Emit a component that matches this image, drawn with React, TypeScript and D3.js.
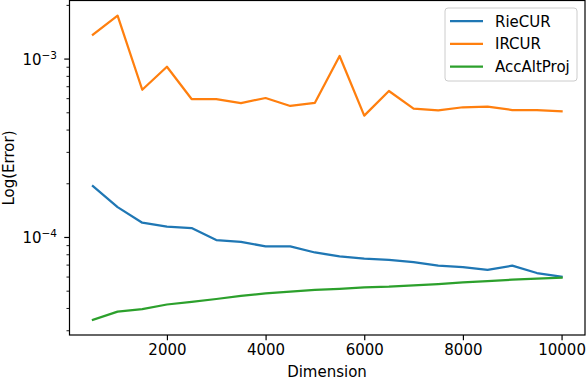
import React, { useRef, useEffect } from "react";
import * as d3 from "d3";

const dims = [500, 1000, 1500, 2000, 2500, 3000, 3500, 4000, 4500, 5000, 5500, 6000, 6500, 7000, 7500, 8000, 8500, 9000, 9500, 10000];
const rieCUR = [1.94e-4, 1.48e-4, 1.21e-4, 1.15e-4, 1.13e-4, 9.67e-5, 9.46e-5, 8.91e-5, 8.91e-5, 8.24e-5, 7.83e-5, 7.6e-5, 7.5e-5, 7.28e-5, 6.95e-5, 6.83e-5, 6.59e-5, 6.95e-5, 6.32e-5, 6.02e-5];
const irCUR = [1.37e-3, 1.75e-3, 6.73e-4, 9.06e-4, 5.97e-4, 5.97e-4, 5.67e-4, 6.05e-4, 5.46e-4, 5.69e-4, 1.04e-3, 4.82e-4, 6.62e-4, 5.27e-4, 5.16e-4, 5.37e-4, 5.41e-4, 5.18e-4, 5.18e-4, 5.09e-4];
const accAltProj = [3.45e-5, 3.84e-5, 3.97e-5, 4.21e-5, 4.36e-5, 4.52e-5, 4.7e-5, 4.86e-5, 4.97e-5, 5.08e-5, 5.15e-5, 5.25e-5, 5.3e-5, 5.39e-5, 5.48e-5, 5.6e-5, 5.7e-5, 5.8e-5, 5.87e-5, 5.95e-5];
const seriesNames = ["RieCUR", "IRCUR", "AccAltProj"];
const colors = ["#1f77b4", "#ff7f0e", "#2ca02c"];
const xTicks = [2000, 4000, 6000, 8000, 10000];
const yMajor = [1e-4, 1e-3];

const W = 586;
const H = 382;
const left = 69.5;
const right = 585;
const top = 0.5;
const bottom = 335;
const FONT = "DejaVu Sans, sans-serif";

const App = () => {
  const svgRef = useRef(null);

  useEffect(() => {
    const svg = d3.select(svgRef.current);
    const x = d3.scaleLinear().domain([25, 10475]).range([left, right]);
    const y = d3.scaleLog().domain([2.84e-5, 2.13e-3]).range([bottom, top]);

    // x axis
    const xAxis = d3.axisBottom(x).tickValues(xTicks).tickFormat(d3.format("d")).tickSizeOuter(0).tickSize(5.25).tickPadding(4);
    const gx = svg.select(".x-axis").attr("transform", `translate(0,${bottom})`).call(xAxis);
    gx.select(".domain").remove();
    gx.selectAll("line").attr("stroke", "#000").attr("stroke-width", 1.2);
    gx.selectAll("text").attr("font-family", FONT).attr("font-size", 15).attr("fill", "#000");

    // y axis: minor ticks
    const minor = [];
    for (let e = -5; e <= -3; e++) {
      for (let m = 2; m <= 9; m++) {
        const v = m * Math.pow(10, e);
        if (v >= y.domain()[0] && v <= y.domain()[1]) minor.push(v);
      }
    }
    const gy = svg.select(".y-axis");
    gy.selectAll(".minor")
      .data(minor)
      .join("line")
      .attr("class", "minor")
      .attr("x1", left - 3)
      .attr("x2", left)
      .attr("y1", (d) => y(d))
      .attr("y2", (d) => y(d))
      .attr("stroke", "#000")
      .attr("stroke-width", 0.9);
    gy.selectAll(".major")
      .data(yMajor)
      .join("line")
      .attr("class", "major")
      .attr("x1", left - 5.25)
      .attr("x2", left)
      .attr("y1", (d) => y(d))
      .attr("y2", (d) => y(d))
      .attr("stroke", "#000")
      .attr("stroke-width", 1.2);
    const lbl = gy.selectAll(".lbl")
      .data(yMajor)
      .join("text")
      .attr("class", "lbl")
      .attr("x", 57)
      .attr("y", (d) => y(d) + 5.5)
      .attr("text-anchor", "end")
      .attr("font-family", FONT)
      .attr("font-size", 15);
    lbl.selectAll("tspan").remove();
    lbl.append("tspan").text("10");
    lbl.append("tspan")
      .attr("dy", -6)
      .attr("font-size", 10.5)
      .text((d) => "\u2212" + Math.round(-Math.log10(d)));

    // lines
    const allSeries = [rieCUR, irCUR, accAltProj];
    const myLine = d3.line()
      .x((d, i) => x(dims[i]))
      .y((d) => y(d));
    svg.select(".lines")
      .selectAll("path")
      .data(allSeries)
      .join("path")
      .attr("d", (d) => myLine(d))
      .attr("fill", "none")
      .attr("stroke", (d, i) => colors[i])
      .attr("stroke-width", 2.25)
      .attr("stroke-linejoin", "round")
      .attr("stroke-linecap", "square");
  }, []);

  return (
    <svg ref={svgRef} width={W} height={H} style={{ position: "absolute", left: 0, top: 0, background: "#fff" }}>
      <g className="lines" />
      <rect x={left} y={top} width={right - left} height={bottom - top} fill="none" stroke="#000" strokeWidth={1.2} />
      <g className="x-axis" />
      <g className="y-axis" />
      <g className="legend">
        <rect x={445} y={8} width={132} height={73} rx={3} fill="#fff" fillOpacity={0.8} stroke="#cccccc" strokeWidth={1} />
        {seriesNames.map((name, i) => (
          <g key={name} transform={`translate(0,${21 + i * 22.8})`}>
            <line x1={450} x2={483} y1={0} y2={0} stroke={colors[i]} strokeWidth={2.25} />
            <text x={495} y={5.5} fontFamily={FONT} fontSize={15} fill="#000">{name}</text>
          </g>
        ))}
      </g>
      <text transform={`translate(14,168) rotate(-90)`} textAnchor="middle" fontFamily={FONT} fontSize={15}>Log(Error)</text>
      <text x={327} y={377} textAnchor="middle" fontFamily={FONT} fontSize={15}>Dimension</text>
    </svg>
  );
};

export default App;
